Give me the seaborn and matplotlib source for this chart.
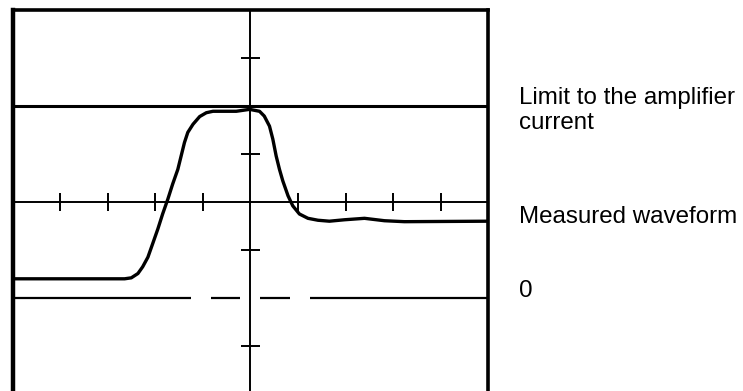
import numpy as np
import pandas as pd
import matplotlib.pyplot as plt
import seaborn as sns

# oscilloscope screen, units = divisions (x: -5..5, y: -4..4)
wave_x = [-5.0, -2.65, -2.51, -2.37, -2.27, -2.16, -2.06, -1.95, -1.85, -1.74,
          -1.64, -1.53, -1.46, -1.39, -1.32, -1.21, -1.07, -0.93, -0.79, -0.51,
          -0.30, -0.02, 0.19, 0.29, 0.40, 0.47, 0.54, 0.61, 0.68, 0.79,
          0.89, 1.03, 1.21, 1.42, 1.66, 1.98, 2.40, 2.82, 3.24, 5.0]
wave_y = [-1.60, -1.60, -1.58, -1.49, -1.35, -1.15, -0.87, -0.56, -0.25, 0.06,
          0.37, 0.68, 0.96, 1.24, 1.45, 1.62, 1.78, 1.86, 1.89, 1.89,
          1.89, 1.93, 1.89, 1.79, 1.58, 1.31, 0.96, 0.68, 0.44, 0.13,
          -0.08, -0.25, -0.34, -0.38, -0.40, -0.37, -0.34, -0.39, -0.41, -0.40]

limit_level = 2.0
zero_level = -2.0
zero_segments = [(-5.0, -1.25), (-0.84, -0.22), (0.21, 0.84), (1.26, 5.0)]
x_ticks = [-4, -3, -2, -1, 1, 2, 3, 4]
y_ticks = [-3, -1, 1, 3]

labels = ["Limit to the amplifier\ncurrent", "Measured waveform", "0"]
label_y_px = [129, 223, 297]  # baseline of the last line, in pixels from the top

df = pd.DataFrame({"t": wave_x, "v": wave_y})

sns.set_style("white")
plt.rcParams["font.family"] = ["Liberation Sans", "DejaVu Sans"]

W, H = 743, 391
fig = plt.figure(figsize=(W / 100, H / 100), dpi=100)
# screen box: left 13px, right 488px, top 10px, bottom runs past the image edge
ax = fig.add_axes([13 / W, (H - 394) / H, 475 / W, 384 / H])
ax.set_xlim(-5, 5)
ax.set_ylim(-4, 4)

# graticule axes and ticks
ax.axvline(0, color="black", lw=1.4)
ax.axhline(0, color="black", lw=1.4)
ax.vlines(x_ticks, -0.19, 0.19, color="black", lw=1.4)
ax.hlines(y_ticks, -0.19, 0.19, color="black", lw=1.4)

# limit to amplifier current
ax.axhline(limit_level, color="black", lw=2.2)

# broken zero line
for a, b in zero_segments:
    ax.hlines(zero_level, a, b, color="black", lw=1.6)

sns.lineplot(data=df, x="t", y="v", ax=ax, color="black", lw=2.4, sort=False,
             solid_joinstyle="round", solid_capstyle="round")

ax.set_xticks([])
ax.set_yticks([])
ax.set_xlabel("")
ax.set_ylabel("")
for side in ["top", "left", "right", "bottom"]:
    ax.spines[side].set_visible(True)
    ax.spines[side].set_color("black")
    ax.spines[side].set_linewidth(2.6)
ax.spines["left"].set_linewidth(3.2)

for txt, ypx in zip(labels, label_y_px):
    fig.text(519 / W, 1 - ypx / H, txt, fontsize=17.4, va="baseline", ha="left",
             linespacing=1.17, color="black")

fig.savefig("out.png", dpi=100)
